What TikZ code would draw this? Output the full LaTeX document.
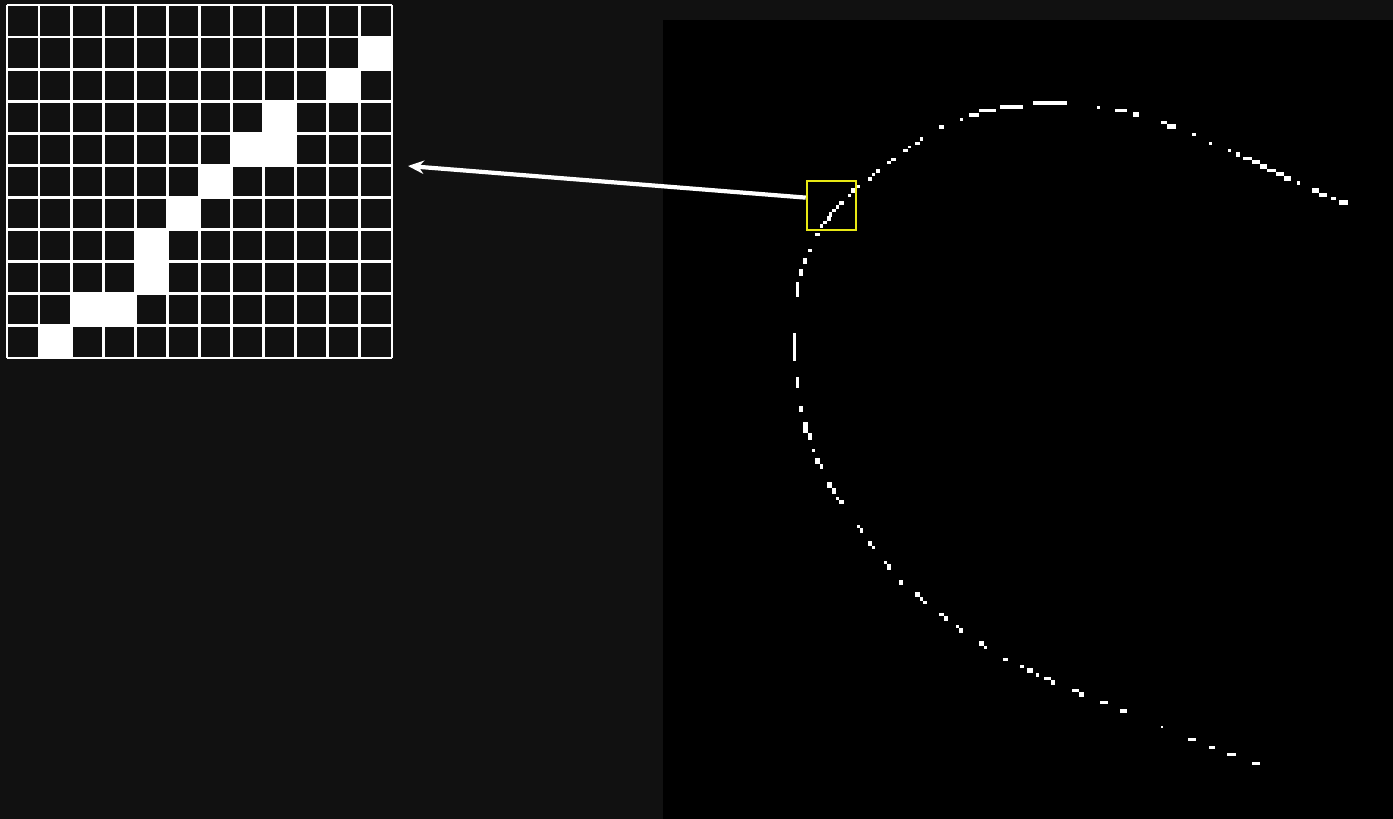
\documentclass[tikz,border=0pt]{standalone}
\usepackage{tikz}
\usetikzlibrary{arrows.meta,calc}
\definecolor{panelgray}{RGB}{17,17,17}
\definecolor{boxyellow}{RGB}{232,232,20}

\begin{document}
\begin{tikzpicture}[x=0.01cm, y=-0.01cm]
        % fondo y panel negro
        \fill[panelgray] (0,0) rectangle (1393,819);
        \fill[black] (663,20) rectangle (1393,819);
        % celdas blancas del zoom (columna/fila)
        \def\on{11/1,10/2,8/3,7/4,8/4,6/5,5/6,4/7,4/8,2/9,3/9,1/10}
        \foreach \c/\r in \on {
          \fill[white] ({7+\c*32.08},{5+\r*32.09}) rectangle ++(32.08,32.09);
        }
        % rejilla 12x11
        \foreach \i in {0,...,12} { \draw[white, line width=0.8pt] ({7+\i*32.08},5) -- ({7+\i*32.08},358); }
        \foreach \j in {0,...,11} { \draw[white, line width=0.8pt] (7,{5+\j*32.09}) -- (392,{5+\j*32.09}); }
        % trazos del borde (x1/y1/x2/y2 en pixeles)
        \def\segs{1033/101/1067/105,1000/105/1023/109,979/109/996/112,969/113/979/117,960/118/963/121,
          939/125/944/129,920/137/923/141,915/142/920/145,908/146/911/148,903/149/908/152,
          891/158/896/161,887/161/891/164,876/169/880/173,872/173/875/176,868/177/872/181,
          856/185/860/188,851/188/855/193,848/194/851/197,839/201/844/205,836/205/839/209,
          832/209/836/212,829/212/832/217,827/216/831/221,823/221/827/224,820/224/823/228,
          815/233/820/236,808/249/812/252,803/258/807/264,799/269/803/276,796/282/799/297,
          793/333/796/361,796/377/799/388,799/406/803/412,803/422/808/433,808/433/812/440,
          812/449/815/452,815/458/820/464,820/464/823/469,827/482/832/488,832/488/836/494,
          836/497/839/500,839/500/844/504,857/525/860/528,860/528/863/533,868/541/872/546,
          872/546/875/549,884/561/887/564,887/564/891/570,899/580/903/585,915/592/920/597,
          920/597/923/601,923/601/927/604,939/613/944/616,944/616/948/621,956/625/959/628,
          959/628/963/633,979/641/984/646,984/646/987/649,1003/658/1008/661,1020/665/1024/668,
          1027/668/1033/673,1036/673/1039/677,1044/677/1051/680,1051/680/1055/685,
          1072/689/1079/692,1079/692/1084/697,1100/701/1108/704,1120/709/1127/713,
          1161/726/1163/728,1188/738/1196/741,1209/746/1215/749,1227/753/1236/756,
          1252/762/1260/765,1097/106/1100/109,1115/109/1127/112,1133/112/1139/117,
          1161/121/1167/124,1167/124/1176/129,1192/133/1196/136,1209/142/1212/145,
          1228/149/1231/152,1236/152/1240/157,1243/157/1252/160,1252/160/1260/164,
          1260/164/1267/169,1267/169/1276/172,1276/172/1284/176,1284/176/1291/181,
          1297/181/1300/185,1312/188/1319/193,1319/193/1327/197,1331/197/1336/200,
          1339/200/1348/205}
        \foreach \a/\b/\c/\d in \segs { \fill[white] (\a,\b) rectangle (\c,\d); }
        % recuadro amarillo y flecha hacia la rejilla
        \node[draw=boxyellow, line width=0.7pt, inner sep=0pt, minimum width=0.49cm, minimum height=0.49cm] (patch) at (831.5,205.5) {};
        \coordinate (gridtip) at (408,166);
        \draw[white, line width=1.2pt, -{Stealth[length=4.5pt,width=3.8pt]}] (patch.163) -- (gridtip);
      \end{tikzpicture}
\end{document}
